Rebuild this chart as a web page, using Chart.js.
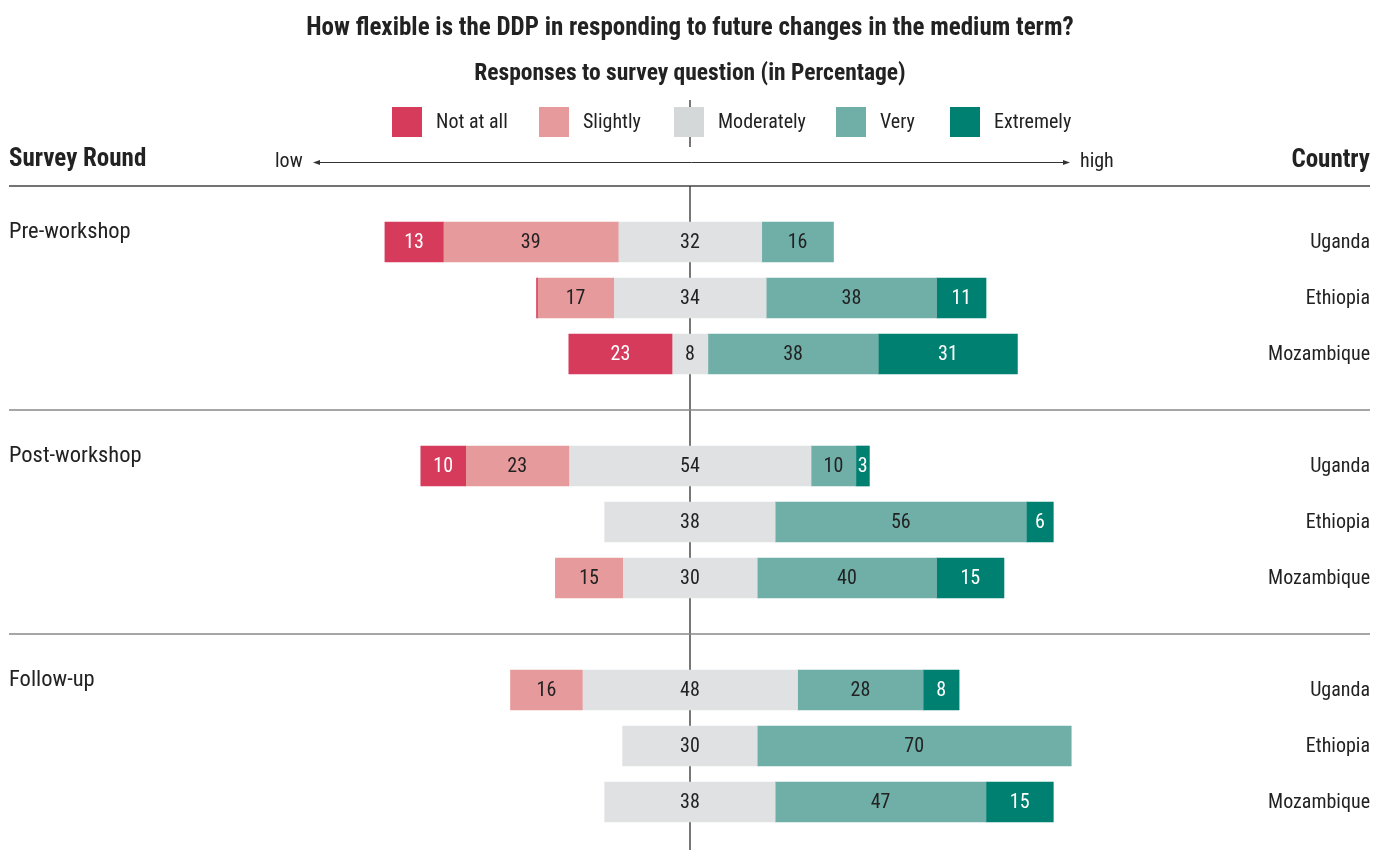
<!DOCTYPE html>
<html>
<head>
<meta charset="utf-8">
<script src="https://cdn.jsdelivr.net/npm/chart.js@4"></script>
<style>
  body { margin: 0; background: #fff; }
  #wrap { width: 1388px; height: 850px; }
</style>
</head>
<body>
<div id="wrap"><canvas id="likert-chart" width="1388" height="850"></canvas></div>
<script>
// survey data (percent of respondents), rows: round x country
const rounds = ['Pre-workshop', 'Post-workshop', 'Follow-up'];
const countries = ['Uganda', 'Ethiopia', 'Mozambique'];
const levels = ['Not at all', 'Slightly', 'Moderately', 'Very', 'Extremely'];

const notAtAll   = [13, 0.2, 23, 10, 0, 0, 0, 0, 0];
const slightly   = [39, 17, 0, 23, 0, 15, 16, 0, 0];
const moderately = [32, 34, 8, 54, 38, 30, 48, 30, 38];
const very       = [16, 38, 38, 10, 56, 40, 28, 70, 47];
const extremely  = [0, 11, 31, 3, 6, 15, 8, 0, 15];

const colors = ['#d63b5b', '#e79a9c', '#e0e1e3', '#70afa8', '#008070'];
const labelColors = ['#ffffff', '#222222', '#222222', '#222222', '#ffffff'];

const NARROW = "'Liberation Sans Narrow', 'Roboto Condensed', Roboto, sans-serif";

document.addEventListener('DOMContentLoaded', function() {
    const series = [notAtAll, slightly, moderately, very, extremely];

    // 11 slots: 3 rows per round with an empty slot between rounds
    const slotLabels = [];
    const rowSlot = [];
    rounds.forEach((r, g) => {
        if (g > 0) slotLabels.push('');
        countries.forEach(c => {
            rowSlot.push(slotLabels.length);
            slotLabels.push(c);
        });
    });

    // floating bars, centred on the middle of "Moderately"
    const floating = series.map(() => slotLabels.map(() => null));
    for (let r = 0; r < rowSlot.length; r++) {
        let start = -(notAtAll[r] + slightly[r] + moderately[r] / 2);
        series.forEach((vals, k) => {
            const v = vals[r];
            if (v > 0) floating[k][rowSlot[r]] = [start, start + v];
            start += v;
        });
    }

    const overlay = {
        id: 'overlay',
        beforeDatasetsDraw(chart) {
            const ctx = chart.ctx;
            const x0 = Math.round(chart.scales.x.getPixelForValue(0));
            ctx.save();
            ctx.strokeStyle = '#777';
            ctx.lineWidth = 2;
            ctx.beginPath();
            ctx.moveTo(x0, 100); ctx.lineTo(x0, 147);
            ctx.moveTo(x0, 186); ctx.lineTo(x0, 850);
            ctx.stroke();
            ctx.restore();
        },
        afterDatasetsDraw(chart) {
            const ctx = chart.ctx;
            ctx.save();
            ctx.font = '20px ' + NARROW;
            ctx.textAlign = 'center';
            ctx.textBaseline = 'middle';
            chart.data.datasets.forEach((ds, k) => {
                const meta = chart.getDatasetMeta(k);
                meta.data.forEach((bar, i) => {
                    const d = ds.data[i];
                    if (!d) return;
                    const v = series[k][rowSlot.indexOf(i)];
                    if (v < 1) return;
                    const p = bar.getProps(['x', 'base', 'y'], true);
                    ctx.fillStyle = labelColors[k];
                    ctx.fillText(String(v), (p.x + p.base) / 2, p.y + 1);
                });
            });
            ctx.restore();
        },
        afterDraw(chart) {
            const ctx = chart.ctx;
            const xs = chart.scales.x, ys = chart.scales.y;
            const x0 = xs.getPixelForValue(0);
            const left = chart.chartArea.left, right = chart.chartArea.right;
            const step = ys.getPixelForValue(1) - ys.getPixelForValue(0);
            ctx.save();

            // titles
            ctx.fillStyle = '#222';
            ctx.textAlign = 'center';
            ctx.textBaseline = 'middle';
            ctx.font = 'bold 25px ' + NARROW;
            ctx.fillText('How flexible is the DDP in responding to future changes in the medium term?', x0, 29);
            ctx.font = 'bold 23.5px ' + NARROW;
            ctx.fillText('Responses to survey question (in Percentage)', x0, 74);

            // legend
            const legendX = [392, 539, 674, 836, 950];
            ctx.font = '20px ' + NARROW;
            ctx.textAlign = 'left';
            levels.forEach((lab, k) => {
                ctx.fillStyle = k === 2 ? '#d5d8d8' : colors[k];
                ctx.fillRect(legendX[k], 107, 30, 30);
                ctx.fillStyle = '#222';
                ctx.fillText(lab, legendX[k] + 44, 123);
            });

            // header row
            ctx.font = 'bold 25px ' + NARROW;
            ctx.fillText('Survey Round', left, 160);
            ctx.textAlign = 'right';
            ctx.fillText('Country', right, 161);
            ctx.font = '20px ' + NARROW;
            ctx.textAlign = 'left';
            ctx.fillText('low', 275, 162);
            ctx.fillText('high', 1080, 162);

            // low/high arrow
            ctx.strokeStyle = '#333';
            ctx.fillStyle = '#333';
            ctx.lineWidth = 1;
            ctx.beginPath();
            ctx.moveTo(315, 162.5); ctx.lineTo(1068, 162.5);
            ctx.stroke();
            ctx.beginPath();
            ctx.moveTo(313, 162.5); ctx.lineTo(320, 160); ctx.lineTo(320, 165); ctx.closePath();
            ctx.moveTo(1070, 162.5); ctx.lineTo(1063, 160); ctx.lineTo(1063, 165); ctx.closePath();
            ctx.fill();

            // separators between rounds
            ctx.lineWidth = 1.5;
            [-1, 3, 7].forEach((s, n) => {
                const y = ys.getPixelForValue(0) + s * step;
                ctx.strokeStyle = n === 0 ? '#444' : '#888';
                ctx.beginPath();
                ctx.moveTo(left, y); ctx.lineTo(right, y);
                ctx.stroke();
            });

            // round names and country names
            ctx.fillStyle = '#222';
            ctx.font = '22.5px ' + NARROW;
            rounds.forEach((r, g) => {
                ctx.textAlign = 'left';
                ctx.fillText(r, left, ys.getPixelForValue(rowSlot[g * 3]) - 10);
            });
            ctx.font = '20px ' + NARROW;
            ctx.textAlign = 'right';
            rowSlot.forEach((s, i) => {
                ctx.fillText(countries[i % 3], right, ys.getPixelForValue(s) + 1);
            });
            ctx.restore();
        }
    };

    const ctx = document.getElementById('likert-chart').getContext('2d');
    new Chart(ctx, {
        type: 'bar',
        data: {
            labels: slotLabels,
            datasets: levels.map((lab, k) => ({
                label: lab,
                data: floating[k],
                backgroundColor: colors[k],
                borderWidth: 0,
                barThickness: 40,
                grouped: false
            }))
        },
        options: {
            indexAxis: 'y',
            responsive: false,
            animation: false,
            layout: { padding: { left: 9, right: 18, top: 214, bottom: 20 } },
            scales: {
                x: { display: false, min: -151.8, max: 151.6 },
                y: { display: false }
            },
            plugins: {
                legend: { display: false },
                tooltip: { enabled: false }
            }
        },
        plugins: [overlay]
    });
});
</script>
</body>
</html>
